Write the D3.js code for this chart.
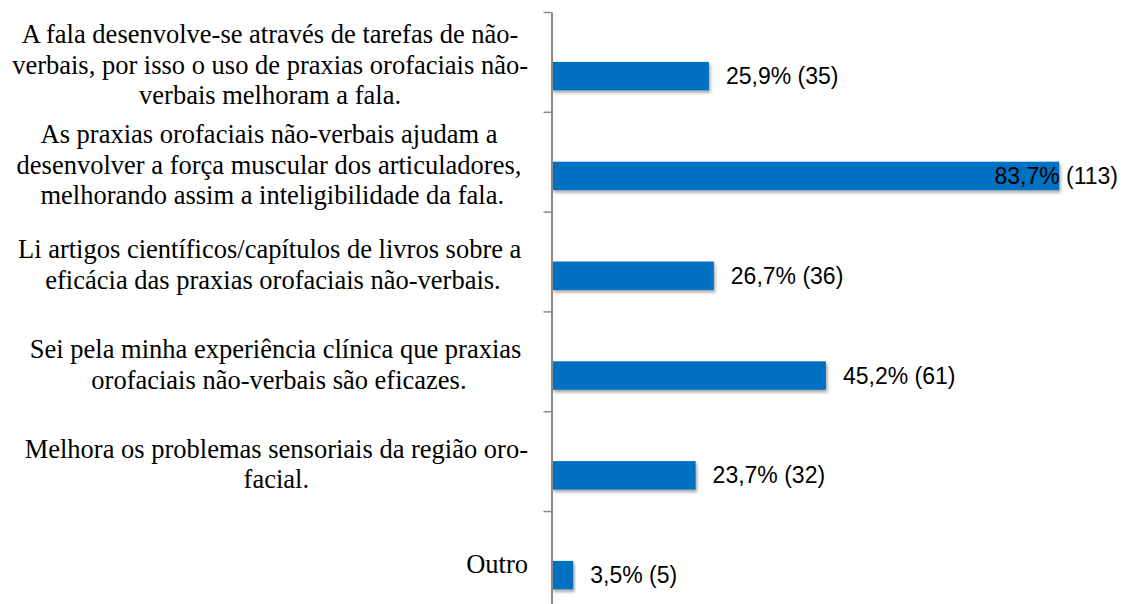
<!DOCTYPE html>
<html>
<head>
<meta charset="utf-8">
<script src="https://cdn.jsdelivr.net/npm/d3@7"></script>
<style>
  html, body { margin: 0; padding: 0; background: #fff; }
  svg { display: block; }
  .cat { font-family: "Liberation Serif", "Times New Roman", Times, "DejaVu Serif", serif; }
  .val { font-family: "Liberation Sans", Arial, sans-serif; }
</style>
</head>
<body>
<svg id="chart" width="1121" height="604"></svg>
<script>
// ---- data ----
const categoryLines = [
  ["A fala desenvolve-se através de tarefas de não-", "verbais, por isso o uso de praxias orofaciais não-", "verbais melhoram a fala."],
  ["As praxias orofaciais não-verbais ajudam a ", "desenvolver a força muscular dos articuladores, ", "melhorando assim a inteligibilidade da fala."],
  ["Li artigos científicos/capítulos de livros sobre a ", "eficácia das praxias orofaciais não-verbais."],
  ["Sei pela minha experiência clínica que praxias ", "orofaciais não-verbais são eficazes."],
  ["Melhora os problemas sensoriais da região oro-", "facial."],
  ["Outro"]
];
const percents = [25.9, 83.7, 26.7, 45.2, 23.7, 3.5];
const counts = [35, 113, 36, 61, 32, 5];
const valueLabels = ["25,9% (35)", "83,7% (113)", "26,7% (36)", "45,2% (61)", "23,7% (32)", "3,5% (5)"];

// ---- layout ----
const axisX = 551.5;
const plotTop = 12, step = 99.8;
const plotBottom = plotTop + step * categoryLines.length;
const labelRight = 528;
const chartRight = 1118;

const svg = d3.select("#chart");

const defs = svg.append("defs");
const f = defs.append("filter").attr("id", "shadow")
  .attr("x", "-5%").attr("y", "-30%").attr("width", "115%").attr("height", "180%");
f.append("feDropShadow").attr("dx", 1.5).attr("dy", 2.5).attr("stdDeviation", 1.6)
  .attr("flood-color", "#000").attr("flood-opacity", 0.35);

const idx = d3.range(categoryLines.length);
const y = d3.scaleBand().domain(idx).range([plotTop, plotBottom]).paddingInner(0).paddingOuter(0);
const yEdge = d3.scaleLinear().domain([0, categoryLines.length]).range([plotTop, plotBottom]);
const x = d3.scaleLinear().domain([0, 100]).range([axisX + 0.5, axisX + 0.5 + 606]);

const barH = step * 0.285;
const barY = i => y(i) + y.step() * 0.5;

// bars
svg.append("g").selectAll("rect").data(percents).join("rect")
  .attr("x", x(0))
  .attr("y", (d, i) => barY(i))
  .attr("width", d => x(d) - x(0))
  .attr("height", barH)
  .attr("fill", "#0070C0")
  .attr("filter", "url(#shadow)");

// axis
const axisG = svg.append("g").attr("transform", `translate(${axisX},0)`)
  .call(d3.axisLeft(yEdge).tickValues(d3.range(categoryLines.length + 1)).tickFormat("").tickSize(8).tickSizeOuter(0));
axisG.select(".domain").attr("stroke", "#8a8a8a").attr("stroke-width", 2);
axisG.selectAll(".tick line").attr("stroke", "#8a8a8a").attr("stroke-width", 1.5);

// category labels
const lineH = 30.5;
const catG = svg.append("g");
categoryLines.forEach((lines, i) => {
  const t = catG.append("text")
    .attr("class", "cat")
    .attr("font-size", 26.5)
    .attr("fill", "#000")
    .style("white-space", "pre")
    .attr("text-anchor", "middle");
  const spans = lines.map(ln => t.append("tspan").text(ln));
  const widths = spans.map(s => s.node().getComputedTextLength());
  const blockW = d3.max(widths);
  const cx = labelRight - blockW / 2;
  const cy = y(i) + y.step() / 2;
  const n = lines.length;
  spans.forEach((s, k) => {
    s.attr("x", cx).attr("y", cy + (k - (n - 1) / 2) * lineH + 12);
  });
});

// value labels
svg.append("g").selectAll("text").data(valueLabels).join("text")
  .attr("class", "val")
  .attr("font-size", 23)
  .attr("fill", "#000")
  .attr("y", (d, i) => barY(i) + barH / 2)
  .attr("dy", "0.35em")
  .text(d => d)
  .each(function(d, i) {
    const w = this.getComputedTextLength();
    const px = Math.min(x(percents[i]) + 17, chartRight - w);
    d3.select(this).attr("x", px);
  });
</script>
</body>
</html>
